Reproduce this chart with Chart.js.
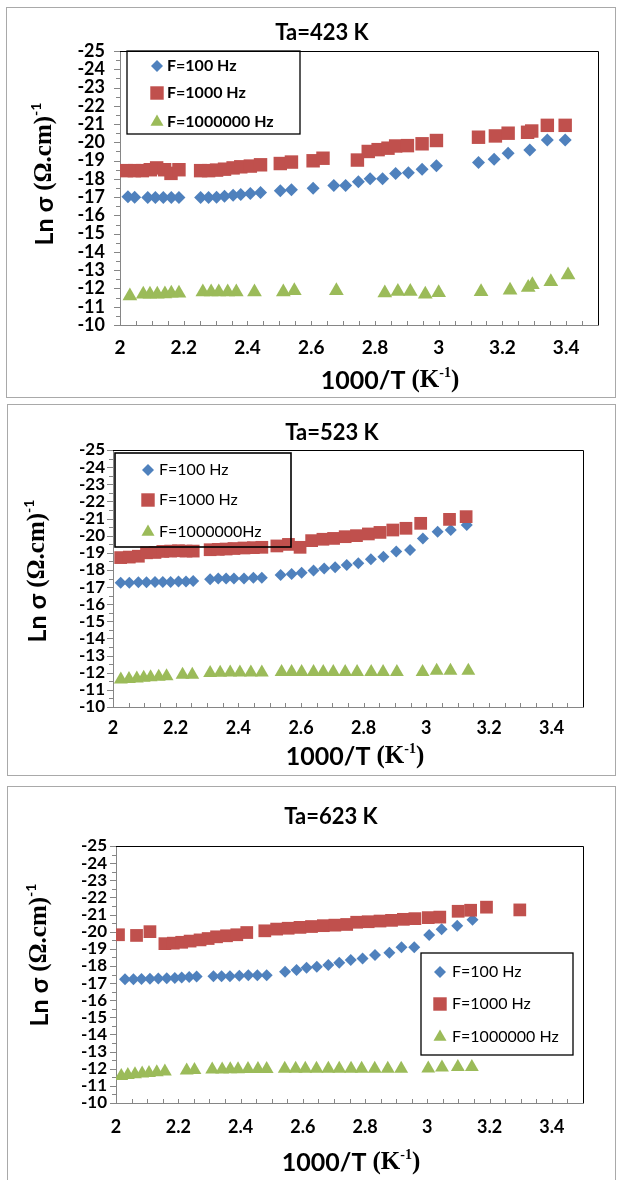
<!DOCTYPE html>
<html><head><meta charset="utf-8">
<script src="https://cdn.jsdelivr.net/npm/chart.js@4.4.1/dist/chart.umd.min.js"></script>
<style>
html,body{margin:0;padding:0;background:#fff;}
body{width:622px;height:1180px;position:relative;overflow:hidden;}
.frame{position:absolute;border:1.5px solid #a9a9a9;box-sizing:border-box;}
canvas{position:absolute;left:0;}
</style></head><body>
<div class="frame" style="left:6px;top:7px;width:610px;height:391px"></div>
<div class="frame" style="left:7px;top:404px;width:609px;height:372px"></div>
<div class="frame" style="left:7px;top:786px;width:609px;height:420px"></div>
<canvas id="c1" width="622" height="400" style="top:0px"></canvas>
<canvas id="c2" width="622" height="380" style="top:400px"></canvas>
<canvas id="c3" width="622" height="400" style="top:780px"></canvas>
<script>
// ---------- data ----------
const xTickLabels = ['2','2.2','2.4','2.6','2.8','3','3.2','3.4'];
const yTickLabels = ['-25','-24','-23','-22','-21','-20','-19','-18','-17','-16','-15','-14','-13','-12','-11','-10'];
const panelTitles = ['Ta=423 K','Ta=523 K','Ta=623 K'];
const names1 = ['F=100 Hz','F=1000 Hz','F=1000000 Hz'];
const names2 = ['F=100 Hz','F=1000 Hz','F=1000000Hz'];
const names3 = ['F=100 Hz','F=1000 Hz','F=1000000 Hz'];
const xTitleParts = ['1000/T ','(K','-1',')'];
const yTitleParts = ['Ln σ ','(Ω.cm)','-1'];

// Ta=423 K
const p1_x100 = [2.025,2.046,2.087,2.111,2.136,2.161,2.185,2.253,2.278,2.303,2.328,2.355,2.379,2.409,2.441,2.503,2.538,2.606,2.671,2.708,2.748,2.785,2.824,2.865,2.905,2.948,2.993,3.125,3.174,3.218,3.286,3.341,3.397];
const p1_y100 = [-17.02,-17.0,-16.98,-16.98,-16.98,-16.98,-16.98,-16.98,-16.98,-17.0,-17.05,-17.1,-17.15,-17.2,-17.25,-17.35,-17.4,-17.48,-17.64,-17.64,-17.84,-18.0,-18.0,-18.3,-18.33,-18.53,-18.72,-18.9,-19.08,-19.4,-19.58,-20.13,-20.13];
const p1_x1000 = [2.02,2.045,2.07,2.095,2.115,2.14,2.16,2.185,2.253,2.278,2.303,2.328,2.355,2.379,2.409,2.441,2.503,2.538,2.606,2.637,2.745,2.779,2.81,2.841,2.865,2.902,2.948,2.993,3.125,3.178,3.218,3.279,3.292,3.341,3.397];
const p1_y1000 = [-18.45,-18.45,-18.45,-18.5,-18.6,-18.5,-18.3,-18.5,-18.45,-18.45,-18.48,-18.53,-18.6,-18.66,-18.7,-18.77,-18.84,-18.92,-18.99,-19.13,-19.03,-19.5,-19.6,-19.68,-19.8,-19.82,-19.92,-20.1,-20.28,-20.35,-20.5,-20.55,-20.62,-20.93,-20.93];
const p1_x1M = [2.031,2.073,2.094,2.117,2.141,2.161,2.185,2.26,2.286,2.31,2.338,2.365,2.422,2.5125,2.547,2.679,2.831,2.872,2.911,2.958,3.0,3.133,3.224,3.281,3.294,3.352,3.406];
const p1_y1M = [-11.59,-11.68,-11.68,-11.68,-11.7,-11.74,-11.74,-11.8,-11.8,-11.8,-11.8,-11.8,-11.8,-11.8,-11.88,-11.88,-11.75,-11.84,-11.84,-11.68,-11.77,-11.82,-11.9,-12.05,-12.2,-12.37,-12.74];

// Ta=523 K
const p2_x100 = [2.0245,2.052,2.081,2.107,2.134,2.159,2.184,2.209,2.233,2.256,2.31,2.336,2.361,2.386,2.418,2.448,2.475,2.535,2.570,2.602,2.640,2.674,2.709,2.746,2.783,2.823,2.863,2.904,2.948,2.989,3.036,3.078,3.129];
const p2_y100 = [-17.25,-17.25,-17.28,-17.28,-17.3,-17.3,-17.3,-17.32,-17.32,-17.35,-17.45,-17.5,-17.5,-17.5,-17.5,-17.55,-17.55,-17.70,-17.76,-17.84,-17.96,-18.09,-18.15,-18.29,-18.39,-18.62,-18.77,-19.07,-19.16,-19.84,-20.23,-20.33,-20.62];
const p2_x1000 = [2.0245,2.052,2.081,2.107,2.134,2.159,2.184,2.209,2.233,2.256,2.31,2.336,2.361,2.386,2.418,2.448,2.475,2.523,2.560,2.597,2.634,2.670,2.704,2.741,2.777,2.815,2.852,2.893,2.935,2.982,3.074,3.127];
const p2_y1000 = [-18.72,-18.75,-18.8,-19.0,-19.02,-19.08,-19.1,-19.12,-19.1,-19.1,-19.18,-19.2,-19.22,-19.25,-19.28,-19.3,-19.32,-19.40,-19.49,-19.32,-19.71,-19.79,-19.84,-19.94,-20.0,-20.1,-20.19,-20.33,-20.43,-20.72,-20.95,-21.11];
const p2_x1M = [2.025,2.051,2.076,2.098,2.120,2.146,2.171,2.222,2.253,2.310,2.342,2.374,2.405,2.440,2.475,2.538,2.570,2.602,2.640,2.671,2.703,2.741,2.779,2.824,2.862,2.906,2.988,3.033,3.077,3.134];
const p2_y1M = [-11.6,-11.63,-11.66,-11.7,-11.73,-11.77,-11.8,-11.88,-11.88,-11.98,-12.0,-12.02,-12.02,-12.02,-12.02,-12.05,-12.05,-12.05,-12.05,-12.05,-12.05,-12.05,-12.05,-12.05,-12.05,-12.05,-12.05,-12.12,-12.12,-12.12];

// Ta=623 K
const p3_x100 = [2.029,2.056,2.082,2.109,2.136,2.163,2.189,2.211,2.235,2.259,2.313,2.339,2.366,2.396,2.425,2.454,2.484,2.543,2.580,2.612,2.645,2.682,2.717,2.754,2.792,2.832,2.878,2.917,2.958,3.006,3.046,3.096,3.145];
const p3_y100 = [-17.22,-17.22,-17.24,-17.25,-17.27,-17.28,-17.3,-17.32,-17.35,-17.38,-17.4,-17.4,-17.4,-17.42,-17.45,-17.45,-17.45,-17.66,-17.76,-17.89,-17.95,-18.05,-18.19,-18.35,-18.44,-18.64,-18.77,-19.09,-19.09,-19.81,-20.14,-20.34,-20.69];
const p3_x1000 = [2.008,2.066,2.109,2.157,2.184,2.211,2.238,2.270,2.296,2.323,2.355,2.388,2.420,2.478,2.516,2.553,2.591,2.628,2.666,2.703,2.741,2.773,2.810,2.848,2.885,2.923,2.960,3.003,3.040,3.099,3.139,3.190,3.297];
const p3_y1000 = [-19.82,-19.78,-20.0,-19.3,-19.33,-19.38,-19.45,-19.52,-19.6,-19.7,-19.76,-19.82,-19.95,-20.05,-20.15,-20.2,-20.25,-20.3,-20.35,-20.38,-20.42,-20.55,-20.58,-20.62,-20.66,-20.72,-20.76,-20.82,-20.85,-21.19,-21.25,-21.43,-21.27];
const p3_x1M = [2.017,2.038,2.061,2.084,2.106,2.131,2.157,2.227,2.252,2.309,2.341,2.367,2.392,2.424,2.456,2.484,2.542,2.577,2.608,2.644,2.682,2.717,2.755,2.789,2.831,2.873,2.916,3.003,3.047,3.098,3.143];
const p3_y1M = [-11.58,-11.64,-11.68,-11.72,-11.75,-11.8,-11.84,-11.9,-11.92,-11.95,-11.96,-11.97,-11.97,-11.98,-11.98,-11.98,-12.0,-12.0,-12.0,-12.0,-12.0,-12.0,-12.0,-12.0,-12.0,-12.0,-12.0,-12.02,-12.07,-12.1,-12.1];

// ---------- styling ----------
const COLORS = ['#4F81BD','#C0504D','#9BBB59'];
const STYLES = ['rectRot','rect','triangle'];
const xTickValues = xTickLabels.map(Number);
const yTickValues = yTickLabels.map(Number);

function drawMarker(ctx, style, r, x, y) {
  if (window.Chart && Chart.helpers && Chart.helpers.drawPoint) {
    Chart.helpers.drawPoint(ctx, {pointStyle: style, radius: r, rotation: 0, borderWidth: 0}, x, y);
    return;
  }
  ctx.beginPath();
  if (style === 'rect') { const s = r * Math.SQRT1_2; ctx.rect(x - s, y - s, 2 * s, 2 * s); }
  else if (style === 'rectRot') { ctx.moveTo(x - r, y); ctx.lineTo(x, y - r); ctx.lineTo(x + r, y); ctx.lineTo(x, y + r); ctx.closePath(); }
  else { ctx.moveTo(x, y - r); ctx.lineTo(x + 0.866 * r, y + 0.5 * r); ctx.lineTo(x - 0.866 * r, y + 0.5 * r); ctx.closePath(); }
  ctx.fill();
}

function drawRich(ctx, parts, cx, cy, rot) {
  ctx.save();
  ctx.translate(cx, cy);
  if (rot) ctx.rotate(rot);
  let w = 0;
  parts.forEach(p => { ctx.font = p.font; w += ctx.measureText(p.text).width; });
  let x = -w / 2;
  ctx.textBaseline = 'middle';
  ctx.textAlign = 'left';
  ctx.fillStyle = '#000';
  parts.forEach(p => { ctx.font = p.font; ctx.fillText(p.text, x, p.dy || 0); x += ctx.measureText(p.text).width; });
  ctx.restore();
}

const decorPlugin = {
  id: 'decor',
  beforeDatasetsDraw(chart, args, o) {
    const ctx = chart.ctx, a = chart.chartArea, xs = chart.scales.x, ys = chart.scales.y;
    ctx.save();
    ctx.strokeStyle = '#868686';
    ctx.lineWidth = 1;
    ctx.beginPath();
    const nx = Math.round((xs.max - xs.min) / o.xMinor);
    for (let k = 0; k <= nx; k++) {
      const px = Math.round(xs.getPixelForValue(xs.min + k * o.xMinor)) + 0.5;
      ctx.moveTo(px, a.bottom); ctx.lineTo(px, a.bottom - o.xTickLen);
    }
    const ny = Math.round((ys.max - ys.min) / o.yMinor);
    for (let k = 0; k <= ny; k++) {
      const v = ys.min + k * o.yMinor;
      const py = Math.round(ys.getPixelForValue(v)) + 0.5;
      const len = (k % 2 === 0) ? 6 : 4;
      ctx.moveTo(a.left - len, py); ctx.lineTo(a.left, py);
    }
    ctx.stroke();
    ctx.strokeStyle = '#000';
    ctx.beginPath();
    ctx.moveTo(a.left, Math.round(a.top) + 0.5);
    ctx.lineTo(Math.round(a.right) + 0.5, Math.round(a.top) + 0.5);
    ctx.lineTo(Math.round(a.right) + 0.5, a.bottom);
    ctx.stroke();
    ctx.restore();
  },
  afterDatasetsDraw(chart, args, o) {
    const ctx = chart.ctx, L = o.legend;
    ctx.save();
    ctx.strokeStyle = '#000';
    ctx.lineWidth = L.lineWidth;
    ctx.strokeRect(L.box[0], L.box[1], L.box[2] - L.box[0], L.box[3] - L.box[1]);
    chart.data.datasets.forEach((ds, i) => {
      const yy = L.rows[i];
      ctx.fillStyle = ds.backgroundColor;
      drawMarker(ctx, ds.pointStyle, L.markerR[i], L.markerX, yy);
      ctx.fillStyle = '#000';
      ctx.font = L.font;
      ctx.textBaseline = 'middle';
      ctx.textAlign = 'left';
      ctx.fillText(ds.label, L.textX, yy);
    });
    ctx.restore();
  },
  afterDraw(chart, args, o) {
    const ctx = chart.ctx;
    drawRich(ctx, [{text: o.title, font: 'bold 22px Lato, "DejaVu Sans"'}], o.titlePos[0], o.titlePos[1], 0);
    drawRich(ctx, [
      {text: xTitleParts[0], font: 'bold 25px Lato, "DejaVu Sans"'},
      {text: xTitleParts[1], font: 'bold 25px "Liberation Serif"'},
      {text: xTitleParts[2], font: 'bold 14px "Liberation Serif"', dy: -8},
      {text: xTitleParts[3], font: 'bold 25px "Liberation Serif"'}
    ], o.xTitlePos[0], o.xTitlePos[1], 0);
    drawRich(ctx, [
      {text: yTitleParts[0], font: 'bold 25px Lato, "DejaVu Sans"'},
      {text: yTitleParts[1], font: 'bold 25px "Liberation Serif"'},
      {text: yTitleParts[2], font: 'bold 14px Lato, "DejaVu Sans"', dy: -9}
    ], o.yTitlePos[0], o.yTitlePos[1], -Math.PI / 2);
  }
};

function makeChart(id, cfg) {
  return new Chart(document.getElementById(id), {
    type: 'scatter',
    data: {
      datasets: cfg.series.map((s, i) => ({
        label: cfg.names[i],
        data: s[0].map((x, j) => ({x: x, y: s[1][j]})),
        pointStyle: STYLES[i],
        pointRadius: cfg.radii[i],
        pointHoverRadius: cfg.radii[i],
        backgroundColor: COLORS[i],
        borderColor: COLORS[i],
        borderWidth: 0,
        showLine: false,
        order: 3 - i
      }))
    },
    options: {
      responsive: false,
      animation: false,
      devicePixelRatio: 1,
      layout: {padding: cfg.pad},
      events: [],
      plugins: {
        legend: {display: false},
        tooltip: {enabled: false},
        title: {display: false},
        decor: cfg.decor
      },
      scales: {
        x: {
          type: 'linear', min: 2, max: 3.5,
          afterBuildTicks: s => { s.ticks = xTickValues.map(v => ({value: v})); },
          afterFit: s => { s.height = 40; },
          grid: {display: false, drawTicks: false},
          border: {display: true, color: '#868686', width: 1},
          ticks: {
            autoSkip: false, maxRotation: 0, padding: cfg.xPad, color: '#000',
            font: {family: 'Lato', weight: 'bold', size: cfg.tickSize + 1},
            callback: (v, i) => xTickLabels[i]
          }
        },
        y: {
          type: 'linear', min: -25, max: -10, reverse: true,
          afterBuildTicks: s => { s.ticks = yTickValues.map(v => ({value: v})); },
          afterFit: s => { s.width = 60; },
          grid: {display: false, drawTicks: false},
          border: {display: true, color: '#868686', width: 1},
          ticks: {
            autoSkip: false, padding: cfg.yPad, color: '#000',
            font: {family: 'Lato', weight: 'bold', size: cfg.tickSize},
            callback: (v, i) => yTickLabels[i]
          }
        }
      }
    },
    plugins: [decorPlugin]
  });
}

makeChart('c1', {
  names: names1,
  series: [[p1_x100, p1_y100], [p1_x1000, p1_y1000], [p1_x1M, p1_y1M]],
  radii: [6.5, 9.5, 8.5],
  pad: {left: 60, right: 24, top: 51, bottom: 35},
  xPad: 11, yPad: 15, tickSize: 18,
  decor: {
    xMinor: 0.05, yMinor: 0.5, xTickLen: 4,
    title: panelTitles[0], titlePos: [322, 33], xTitlePos: [390, 381], yTitlePos: [45, 174],
    legend: {box: [127, 51, 300, 134], rows: [66, 93, 122], markerX: 157, textX: 167, markerR: [6, 9.5, 7.5], font: 'bold 16px Lato', lineWidth: 1.3}
  }
});

makeChart('c2', {
  names: names2,
  series: [[p2_x100, p2_y100], [p2_x1000, p2_y1000], [p2_x1M, p2_y1M]],
  radii: [6, 9, 8],
  pad: {left: 53, right: 39, top: 50, bottom: 33},
  xPad: 10, yPad: 8, tickSize: 17,
  decor: {
    xMinor: 0.05, yMinor: 0.5, xTickLen: 4,
    title: panelTitles[1], titlePos: [332, 33], xTitlePos: [355, 357], yTitlePos: [38, 171],
    legend: {box: [115, 53, 291, 147], rows: [70, 100, 132], markerX: 148, textX: 159, markerR: [6, 9.5, 7.5], font: '16px Lato', lineWidth: 1.6}
  }
});

makeChart('c3', {
  names: names3,
  series: [[p3_x100, p3_y100], [p3_x1000, p3_y1000], [p3_x1M, p3_y1M]],
  radii: [6, 9, 8],
  pad: {left: 56, right: 39, top: 66, bottom: 37},
  xPad: 13, yPad: 9, tickSize: 17,
  decor: {
    xMinor: 0.05, yMinor: 0.5, xTickLen: 4,
    title: panelTitles[2], titlePos: [331, 37], xTitlePos: [351, 383], yTitlePos: [40, 175],
    legend: {box: [421, 173, 573, 275], rows: [192, 224, 257], markerX: 440, textX: 452, markerR: [6, 9.5, 7.5], font: '16px Lato', lineWidth: 1.3}
  }
});
</script>
</body></html>
